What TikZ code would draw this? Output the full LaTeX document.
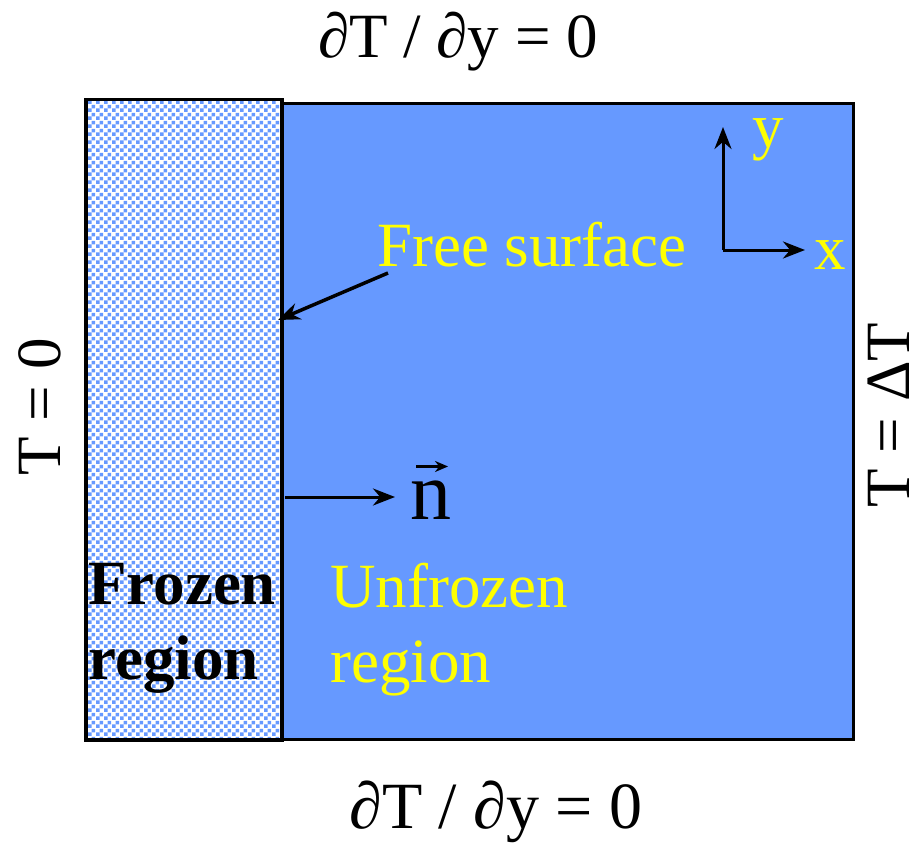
\documentclass[tikz,border=0pt]{standalone}
\usepackage{fontspec}
\setmainfont{Liberation Serif}
\usetikzlibrary{arrows.meta,patterns.meta,positioning}
\definecolor{water}{HTML}{6699FF}
\definecolor{hilite}{HTML}{FFFF00}

\tikzdeclarepattern{name=icechecks, type=uncolored,
  bounding box={(0pt,0pt) and (8pt,8pt)}, tile size={(8pt,8pt)},
  code={\fill (0pt,0pt) rectangle (4pt,4pt); \fill (4pt,4pt) rectangle (8pt,8pt);}}

\tikzset{
  big/.style={font=\fontsize{63}{75}\selectfont, inner sep=0pt},
  pointer/.style={line width=3pt, -{Stealth[length=22pt,width=17pt]}}
}

\begin{document}
\begin{tikzpicture}[x=1pt,y=-1pt]
\useasboundingbox (0,0) rectangle (924,848);
% domain
\node[draw, line width=3pt, fill=water, minimum width=572pt, minimum height=636pt, anchor=north west, inner sep=0pt] (liquid) at (280,102) {};
\node[draw, line width=3.5pt, preaction={fill=white}, pattern={icechecks}, pattern color=water, minimum width=196pt, minimum height=640pt, anchor=north west, inner sep=0pt] (frozen) at (84,98) {};
% boundary conditions
\node[big] (top) at (458,42) {∂T / ∂y = 0};
\node[big, font=\fontsize{66}{75}\selectfont] (bottom) at (496,812) {∂T / ∂y = 0};
\node[big, rotate=90] (left) at (40,407) {T = 0};
\node[big, rotate=90] (right) at (889,415) {T = ΔT};
% axes
\coordinate (origin) at (723,250);
\coordinate (ytip) at (723,127);
\coordinate (xtip) at (805,250);
\draw[pointer] (origin) -- (ytip);
\draw[pointer] (origin) -- (xtip);
\node[big, text=hilite] (ylab) at (768,140) {y};
\node[big, text=hilite] (xlab) at (830,255) {x};
% free surface
\node[big, text=hilite] (surf) at (532,245) {Free surface};
\coordinate (tail) at (388,273);
\coordinate (front) at (278,320);
\draw[pointer, line width=3.5pt] (tail) -- (front);
% normal
\coordinate (nstart) at (285,497);
\node[big, font=\fontsize{82}{82}\selectfont] (nvec) at (431,500) {n};
\draw[line width=3pt, -{Stealth[length=13pt,width=11pt]}] ([xshift=-15pt,yshift=14pt]nvec.north) -- ([xshift=17pt,yshift=14pt]nvec.north);
\draw[pointer] (nstart) -- (395,497);
% regions
\node[big, font=\fontsize{63}{75}\selectfont\bfseries, align=left, anchor=north west] (ice) at (88,563) {Frozen\\region};
\node[big, text=hilite, align=left, anchor=north west] (melt) at (330,563) {Unfrozen\\region};
\end{tikzpicture}
\end{document}
